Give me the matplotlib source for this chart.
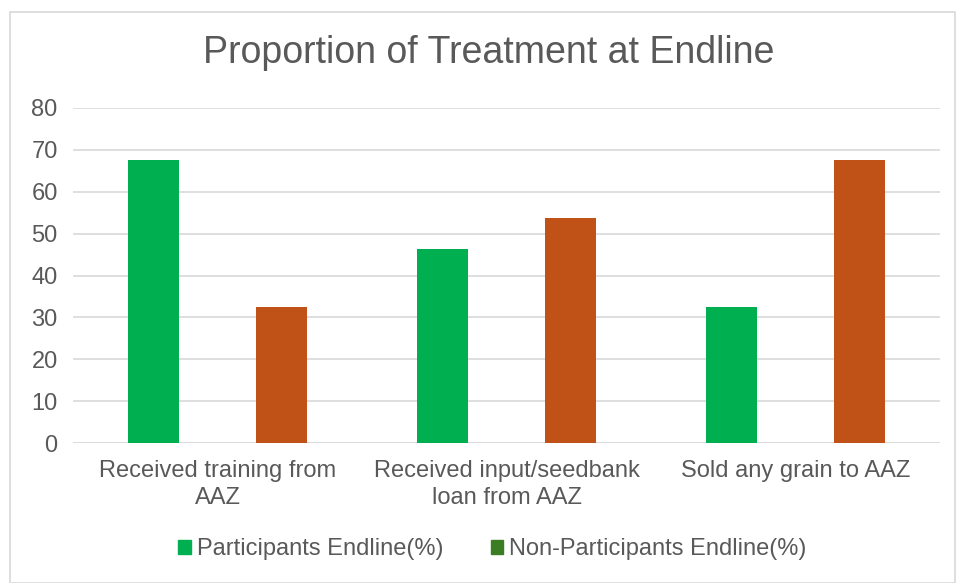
import numpy as np
import matplotlib.pyplot as plt
from matplotlib.patches import Patch, Rectangle

categories = ['Received training from\nAAZ', 'Received input/seedbank\nloan from AAZ', 'Sold any grain to AAZ']
participants = [67.5, 46.3, 32.5]
non_participants = [32.5, 53.7, 67.5]
series_names = ['Participants Endline(%)', 'Non-Participants Endline(%)']

plt.rcParams['font.family'] = ['Liberation Sans', 'DejaVu Sans']
txt = '#595959'
grid = '#D9D9D9'

fig = plt.figure(figsize=(9.56, 5.83), dpi=100)
ax = fig.add_axes([73/956, 1 - 443/583, (940-73)/956, (443-108)/583])

x = np.arange(len(categories))
w = 0.175
off = 0.221
ax.bar(x - off, participants, w, color='#00B050', zorder=3)
ax.bar(x + off, non_participants, w, color='#C05117', zorder=3)

ax.set_xlim(-0.5, 2.5)
ax.set_ylim(0, 80)
ax.set_yticks(range(0, 81, 10))
ax.yaxis.grid(True, color=grid, linewidth=1.2, zorder=0)
for s in ax.spines.values():
    s.set_visible(False)
ax.axhline(0, color=grid, linewidth=1.2, zorder=2)
ax.tick_params(axis='both', length=0, labelsize=17, labelcolor=txt)
ax.tick_params(axis='y', pad=11)
ax.tick_params(axis='x', pad=12)
ax.set_xticks(x)
ax.set_xticklabels(categories, linespacing=1.3)

fig.text(0.511, 1 - 53/583, 'Proportion of Treatment at Endline', ha='center', va='center',
         fontsize=27, color=txt)

handles = [Patch(color='#00B050'), Patch(color='#3A7D22')]
fig.legend(handles, series_names, loc='center', bbox_to_anchor=(0.515, 1 - 549/583), ncol=2,
           frameon=False, fontsize=17, labelcolor=txt, handlelength=0.55, handleheight=0.55,
           handletextpad=0.25, columnspacing=2.0)

# outer chart frame
fig.patches.append(Rectangle((10/956, 0), 945/956, 1 - 12/583, transform=fig.transFigure,
                             fill=False, edgecolor='#D9D9D9', linewidth=1.2))

fig.savefig('out.png', dpi=100)
